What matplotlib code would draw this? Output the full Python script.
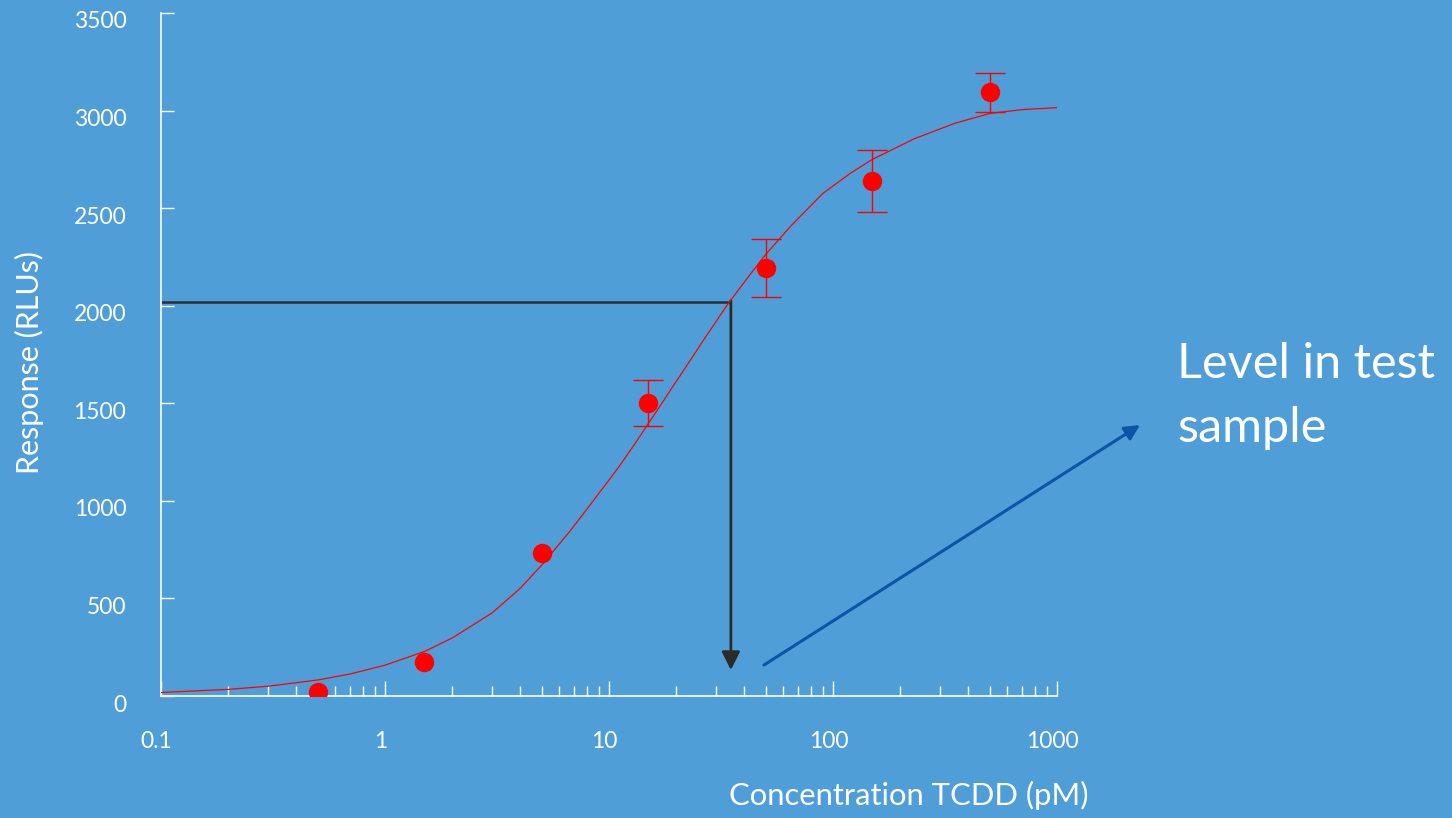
import matplotlib
matplotlib.use("Agg")
import matplotlib.pyplot as plt
from matplotlib.transforms import ScaledTranslation
from matplotlib.ticker import LogLocator, NullFormatter, FixedLocator, FixedFormatter

plt.rcParams["font.family"] = ["Lato", "DejaVu Sans"]

BG = "#4F9ED8"

# measured standards (concentration pM, response RLU, error)
conc = [0.5, 1.5, 5, 15, 50, 150, 500]
resp = [20, 174, 733, 1501, 2193, 2638, 3094]
err = [0, 0, 0, 118, 150, 160, 100]

# fitted curve
curve_x = [0.1, 0.2, 0.3, 0.5, 0.7, 1, 1.5, 2, 3, 4, 5, 6.7, 8.5, 11, 13, 16, 19,
           22, 27, 34, 42, 50, 65, 90, 120, 150, 230, 350, 500, 700, 1000]
curve_y = [18, 34, 50, 82, 113, 158, 228, 298, 425, 550, 670, 845, 1000, 1170, 1290,
           1445, 1575, 1685, 1840, 2010, 2150, 2262, 2410, 2575, 2680, 2750, 2855,
           2935, 2985, 3005, 3015]

# read-back of the test sample
sample_resp = 2020
sample_conc = 35
arrow_tip = 133

xticks = [0.1, 1, 10, 100, 1000]
xtick_labels = ["0.1", "1", "10", "100", "1000"]
yticks = [0, 500, 1000, 1500, 2000, 2500, 3000, 3500]

fig = plt.figure(figsize=(14.52, 8.18), dpi=100, facecolor=BG)
ax = fig.add_axes([161 / 1452, 1 - 696 / 818, 896 / 1452, 683 / 818])
ax.set_facecolor(BG)

ax.plot(curve_x, curve_y, color="red", lw=0.9, zorder=3)
ax.errorbar(conc, resp, yerr=err, fmt="o", color="red", ms=13, elinewidth=1,
            capsize=10.5, capthick=1, errorevery=(3, 1), zorder=4)

ax.plot([0.1, sample_conc], [sample_resp, sample_resp], color="#2E2E2E", lw=1.8,
        solid_capstyle="butt", zorder=2)
ax.annotate("", xy=(sample_conc, arrow_tip), xytext=(sample_conc, sample_resp + 6),
            arrowprops=dict(arrowstyle="-|>,head_length=0.5,head_width=0.25",
                            mutation_scale=22, color="#2A2A2A", lw=2,
                            shrinkA=0, shrinkB=0), zorder=2)

ax.set_xscale("log")
ax.set_xlim(0.1, 1000)
ax.set_ylim(0, 3500)

for s in ["top", "right"]:
    ax.spines[s].set_visible(False)
for s in ["left", "bottom"]:
    ax.spines[s].set_color("white")
    ax.spines[s].set_linewidth(1.2)

ax.xaxis.set_major_locator(FixedLocator(xticks))
ax.xaxis.set_major_formatter(FixedFormatter(xtick_labels))
ax.xaxis.set_minor_locator(LogLocator(base=10, subs=range(2, 10)))
ax.xaxis.set_minor_formatter(NullFormatter())
ax.set_yticks(yticks)
ax.set_yticklabels([str(v) for v in yticks])

ax.tick_params(axis="x", which="major", direction="in", length=11, width=1,
               color="white", labelcolor="white", labelsize=16.5, pad=25)
ax.tick_params(axis="x", which="minor", direction="in", length=7.2, width=1,
               color="white")
ax.tick_params(axis="y", which="major", direction="in", length=9.4, width=1,
               color="white", labelcolor="white", labelsize=16.5, pad=25)

for lab in ax.get_xticklabels():
    lab.set_transform(lab.get_transform() + ScaledTranslation(-0.045, 0, fig.dpi_scale_trans))
for lab in ax.get_yticklabels():
    lab.set_transform(lab.get_transform() + ScaledTranslation(0, -0.07, fig.dpi_scale_trans))

ax.set_xlabel("Concentration TCDD (pM)", color="white", fontsize=22.3)
ax.xaxis.set_label_coords(0.835, -0.124)
ax.set_ylabel("Response (RLUs)", color="white", fontsize=22)
ax.yaxis.set_label_coords(-0.131, 0.489)

ax.annotate("", xy=(1140 / 1452, 1 - 425 / 818), xycoords="figure fraction",
            xytext=(764 / 1452, 1 - 665 / 818), textcoords="figure fraction",
            arrowprops=dict(arrowstyle="-|>,head_length=0.5,head_width=0.25",
                            mutation_scale=18, color="#0B55A3", lw=2.2,
                            shrinkA=0, shrinkB=0))

fig.text(1177 / 1452, 1 - 342 / 818, "Level in test\nsample", color="white",
         fontsize=35, ha="left", va="top", linespacing=1.55)

fig.savefig("out.png", dpi=100, facecolor=BG)
